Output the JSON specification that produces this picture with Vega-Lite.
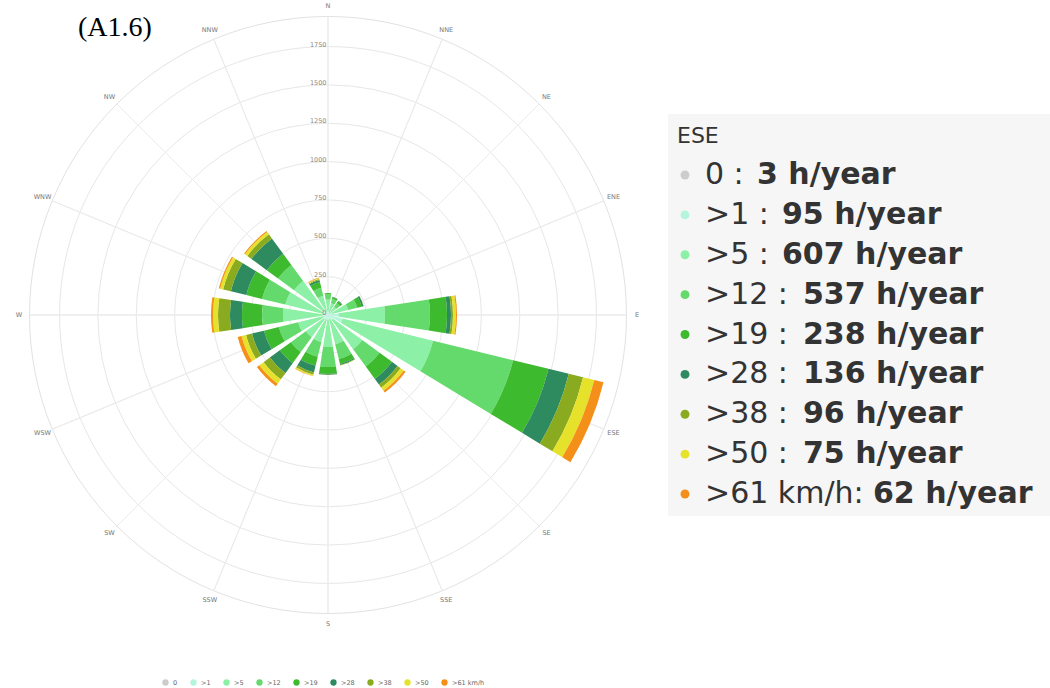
{
  "$schema": "https://vega.github.io/schema/vega-lite/v6.json",
  "padding": 0,
  "background": "white",
  "config": {"view": {"stroke": null}, "font": "DejaVu Sans"},
  "datasets": {
    "wind": [
      {"dir":"N","s":0,"h":1},{"dir":"N","s":1,"h":20},{"dir":"N","s":5,"h":80},{"dir":"N","s":12,"h":35},{"dir":"N","s":19,"h":7},{"dir":"N","s":28,"h":0},{"dir":"N","s":38,"h":0},{"dir":"N","s":50,"h":0},{"dir":"N","s":61,"h":0},
      {"dir":"NNE","s":0,"h":1},{"dir":"NNE","s":1,"h":18},{"dir":"NNE","s":5,"h":60},{"dir":"NNE","s":12,"h":30},{"dir":"NNE","s":19,"h":10},{"dir":"NNE","s":28,"h":3},{"dir":"NNE","s":38,"h":0},{"dir":"NNE","s":50,"h":0},{"dir":"NNE","s":61,"h":0},
      {"dir":"NE","s":0,"h":1},{"dir":"NE","s":1,"h":15},{"dir":"NE","s":5,"h":50},{"dir":"NE","s":12,"h":30},{"dir":"NE","s":19,"h":15},{"dir":"NE","s":28,"h":5},{"dir":"NE","s":38,"h":0},{"dir":"NE","s":50,"h":0},{"dir":"NE","s":61,"h":0},
      {"dir":"ENE","s":0,"h":1},{"dir":"ENE","s":1,"h":25},{"dir":"ENE","s":5,"h":110},{"dir":"ENE","s":12,"h":60},{"dir":"ENE","s":19,"h":30},{"dir":"ENE","s":28,"h":12},{"dir":"ENE","s":38,"h":2},{"dir":"ENE","s":50,"h":0},{"dir":"ENE","s":61,"h":0},
      {"dir":"E","s":0,"h":1},{"dir":"E","s":1,"h":70},{"dir":"E","s":5,"h":301},{"dir":"E","s":12,"h":293},{"dir":"E","s":19,"h":111},{"dir":"E","s":28,"h":26},{"dir":"E","s":38,"h":13},{"dir":"E","s":50,"h":19},{"dir":"E","s":61,"h":7},
      {"dir":"ESE","s":0,"h":3},{"dir":"ESE","s":1,"h":95},{"dir":"ESE","s":5,"h":607},{"dir":"ESE","s":12,"h":537},{"dir":"ESE","s":19,"h":238},{"dir":"ESE","s":28,"h":136},{"dir":"ESE","s":38,"h":96},{"dir":"ESE","s":50,"h":75},{"dir":"ESE","s":61,"h":62},
      {"dir":"SE","s":0,"h":1},{"dir":"SE","s":1,"h":40},{"dir":"SE","s":5,"h":236},{"dir":"SE","s":12,"h":140},{"dir":"SE","s":19,"h":100},{"dir":"SE","s":28,"h":45},{"dir":"SE","s":38,"h":25},{"dir":"SE","s":50,"h":25},{"dir":"SE","s":61,"h":15},
      {"dir":"SSE","s":0,"h":1},{"dir":"SSE","s":1,"h":30},{"dir":"SSE","s":5,"h":165},{"dir":"SSE","s":12,"h":100},{"dir":"SSE","s":19,"h":32},{"dir":"SSE","s":28,"h":8},{"dir":"SSE","s":38,"h":3},{"dir":"SSE","s":50,"h":1},{"dir":"SSE","s":61,"h":0},
      {"dir":"S","s":0,"h":1},{"dir":"S","s":1,"h":30},{"dir":"S","s":5,"h":178},{"dir":"S","s":12,"h":130},{"dir":"S","s":19,"h":45},{"dir":"S","s":28,"h":5},{"dir":"S","s":38,"h":2},{"dir":"S","s":50,"h":0},{"dir":"S","s":61,"h":0},
      {"dir":"SSW","s":0,"h":1},{"dir":"SSW","s":1,"h":30},{"dir":"SSW","s":5,"h":150},{"dir":"SSW","s":12,"h":100},{"dir":"SSW","s":19,"h":60},{"dir":"SSW","s":28,"h":45},{"dir":"SSW","s":38,"h":15},{"dir":"SSW","s":50,"h":8},{"dir":"SSW","s":61,"h":2},
      {"dir":"SW","s":0,"h":1},{"dir":"SW","s":1,"h":34},{"dir":"SW","s":5,"h":145},{"dir":"SW","s":12,"h":120},{"dir":"SW","s":19,"h":90},{"dir":"SW","s":28,"h":80},{"dir":"SW","s":38,"h":50},{"dir":"SW","s":50,"h":35},{"dir":"SW","s":61,"h":20},
      {"dir":"WSW","s":0,"h":1},{"dir":"WSW","s":1,"h":34},{"dir":"WSW","s":5,"h":165},{"dir":"WSW","s":12,"h":130},{"dir":"WSW","s":19,"h":100},{"dir":"WSW","s":28,"h":80},{"dir":"WSW","s":38,"h":40},{"dir":"WSW","s":50,"h":30},{"dir":"WSW","s":61,"h":26},
      {"dir":"W","s":0,"h":1},{"dir":"W","s":1,"h":35},{"dir":"W","s":5,"h":257},{"dir":"W","s":12,"h":137},{"dir":"W","s":19,"h":131},{"dir":"W","s":28,"h":78},{"dir":"W","s":38,"h":78},{"dir":"W","s":50,"h":33},{"dir":"W","s":61,"h":13},
      {"dir":"WNW","s":0,"h":1},{"dir":"WNW","s":1,"h":35},{"dir":"WNW","s":5,"h":251},{"dir":"WNW","s":12,"h":156},{"dir":"WNW","s":19,"h":105},{"dir":"WNW","s":28,"h":104},{"dir":"WNW","s":38,"h":52},{"dir":"WNW","s":50,"h":20},{"dir":"WNW","s":61,"h":9},
      {"dir":"NW","s":0,"h":1},{"dir":"NW","s":1,"h":33},{"dir":"NW","s":5,"h":240},{"dir":"NW","s":12,"h":130},{"dir":"NW","s":19,"h":91},{"dir":"NW","s":28,"h":124},{"dir":"NW","s":38,"h":33},{"dir":"NW","s":50,"h":19},{"dir":"NW","s":61,"h":7},
      {"dir":"NNW","s":0,"h":1},{"dir":"NNW","s":1,"h":25},{"dir":"NNW","s":5,"h":104},{"dir":"NNW","s":12,"h":53},{"dir":"NNW","s":19,"h":39},{"dir":"NNW","s":28,"h":13},{"dir":"NNW","s":38,"h":6},{"dir":"NNW","s":50,"h":6},{"dir":"NNW","s":61,"h":3}
    ],
    "dirs": [
      {"dir":"N","deg":0},{"dir":"NNE","deg":22.5},{"dir":"NE","deg":45},{"dir":"ENE","deg":67.5},
      {"dir":"E","deg":90},{"dir":"ESE","deg":112.5},{"dir":"SE","deg":135},{"dir":"SSE","deg":157.5},
      {"dir":"S","deg":180},{"dir":"SSW","deg":202.5},{"dir":"SW","deg":225},{"dir":"WSW","deg":247.5},
      {"dir":"W","deg":270},{"dir":"WNW","deg":292.5},{"dir":"NW","deg":315},{"dir":"NNW","deg":337.5}
    ],
    "rings": [{"v":0},{"v":250},{"v":500},{"v":750},{"v":1000},{"v":1250},{"v":1500},{"v":1750}]
  },
  "spacing": 12,
  "bounds": "flush",
  "center": true,
  "hconcat": [
    {
      "width": 656,
      "height": 630,
      "title": {"text": "(A1.6)", "anchor": "start", "frame": "group", "orient": "top", "offset": -64, "dx": 78, "font": "Liberation Serif", "fontSize": 28, "fontWeight": "normal", "color": "#000000", "baseline": "alphabetic"},
      "resolve": {"scale": {"theta": "independent"}},
      "layer": [
        {
          "data": {"name": "rings"},
          "mark": {"type": "arc", "theta": 0, "theta2": 6.2832, "filled": false, "stroke": "#e7e7e7", "strokeWidth": 1},
          "encoding": {
            "radius": {"field": "v", "type": "quantitative", "stack": null, "scale": {"type": "linear", "domain": [0, 1946], "range": [0, 298.5], "zero": true, "nice": false}}
          }
        },
        {
          "data": {"values": [{"edge": 1946}]},
          "mark": {"type": "arc", "theta": 0, "theta2": 6.2832, "filled": false, "stroke": "#e2e2e2", "strokeWidth": 1},
          "encoding": {
            "radius": {"field": "edge", "type": "quantitative", "stack": null, "scale": {"type": "linear", "domain": [0, 1946], "range": [0, 298.5], "zero": true, "nice": false}}
          }
        },
        {
          "data": {"name": "dirs"},
          "mark": {"type": "arc", "filled": false, "stroke": "#ebebeb", "strokeWidth": 1},
          "encoding": {
            "theta": {"field": "deg", "type": "quantitative", "scale": {"type": "linear", "domain": [0, 360], "range": [0, 6.283185307], "zero": false, "nice": false}},
            "theta2": {"field": "deg"},
            "radius": {"datum": 1946, "type": "quantitative", "stack": null, "scale": {"type": "linear", "domain": [0, 1946], "range": [0, 298.5], "zero": true, "nice": false}},
            "radius2": {"datum": 0}
          }
        },
        {
          "data": {"name": "wind"},
          "transform": [{"stack": "h", "groupby": ["dir"], "sort": [{"field": "s", "order": "ascending"}], "as": ["r0", "r1"]}],
          "mark": {"type": "arc", "stroke": null},
          "encoding": {
            "theta": {"field": "dir", "type": "nominal", "sort": ["N","NNE","NE","ENE","E","ESE","SE","SSE","S","SSW","SW","WSW","W","WNW","NW","NNW"], "scale": {"type": "band", "domain": ["N","NNE","NE","ENE","E","ESE","SE","SSE","S","SSW","SW","WSW","W","WNW","NW","NNW"], "range": [-0.19635, 6.08684], "paddingInner": 0.22, "paddingOuter": 0.11}},
            "radius": {"field": "r1", "type": "quantitative", "stack": null, "scale": {"type": "linear", "domain": [0, 1946], "range": [0, 298.5], "zero": true, "nice": false}},
            "radius2": {"field": "r0"},
            "color": {
              "field": "s", "type": "ordinal",
              "scale": {"domain": [0,1,5,12,19,28,38,50,61], "range": ["#cccccc","#b4f5dc","#8cf0a6","#64da6c","#3dba2d","#2e8a5f","#8aab1f","#e6e22c","#f4901a"]},
              "legend": {"orient": "none", "legendX": 162, "legendY": 679, "direction": "horizontal", "title": null, "symbolType": "circle", "symbolSize": 40, "symbolStrokeWidth": 0, "labelFontSize": 6.5, "labelColor": "#666666", "labelOffset": 4, "columnPadding": 12, "labelExpr": "datum.value == 0 ? '0' : datum.value == 61 ? '>61 km/h' : '>' + datum.value"}
            }
          }
        },
        {
          "data": {"name": "dirs"},
          "mark": {"type": "text", "radius": 309, "fontSize": 6.5, "color": "#777777", "align": "center", "baseline": "middle"},
          "encoding": {
            "theta": {"field": "deg", "type": "quantitative", "scale": {"type": "linear", "domain": [0, 360], "range": [0, 6.283185307], "zero": false, "nice": false}},
            "text": {"field": "dir", "type": "nominal"}
          }
        },
        {
          "data": {"name": "rings"},
          "mark": {"type": "text", "align": "right", "baseline": "bottom", "dx": -1.5, "dy": 1, "fontSize": 6.5, "color": "#888888"},
          "encoding": {
            "theta": {"datum": 0, "type": "quantitative", "scale": {"type": "linear", "domain": [0, 360], "range": [0, 6.283185307], "zero": false, "nice": false}},
            "radius": {"field": "v", "type": "quantitative", "stack": null, "scale": {"type": "linear", "domain": [0, 1946], "range": [0, 298.5], "zero": true, "nice": false}},
            "text": {"field": "v", "type": "quantitative"}
          }
        }
      ]
    },
    {
      "width": 382,
      "height": 402,
      "view": {"fill": "#f6f6f6", "stroke": null},
      "title": {"text": "ESE", "anchor": "start", "frame": "group", "orient": "top", "offset": -51, "dx": 9, "font": "DejaVu Sans", "fontSize": 22, "fontWeight": "normal", "color": "#333333", "baseline": "alphabetic"},
      "data": {"name": "wind"},
      "transform": [{"filter": "datum.dir == 'ESE'"}],
      "encoding": {
        "y": {"field": "s", "type": "ordinal", "axis": null, "scale": {"type": "point", "domain": [0,1,5,12,19,28,38,50,61], "range": [61, 380], "padding": 0}}
      },
      "layer": [
        {
          "mark": {"type": "point", "filled": true, "x": 17, "size": 80, "opacity": 1},
          "encoding": {
            "color": {
              "field": "s", "type": "ordinal",
              "scale": {"domain": [0,1,5,12,19,28,38,50,61], "range": ["#cccccc","#b4f5dc","#8cf0a6","#64da6c","#3dba2d","#2e8a5f","#8aab1f","#e6e22c","#f4901a"]},
              "legend": {"orient": "none", "legendX": 162, "legendY": 679, "direction": "horizontal", "title": null, "symbolType": "circle", "symbolSize": 40, "symbolStrokeWidth": 0, "labelFontSize": 6.5, "labelColor": "#666666", "labelOffset": 4, "columnPadding": 12, "labelExpr": "datum.value == 0 ? '0' : datum.value == 61 ? '>61 km/h' : '>' + datum.value"}
            }
          }
        },
        {
          "mark": {"type": "text", "x": 37, "align": "left", "baseline": "middle", "fontSize": 30, "color": "#333333", "font": "DejaVu Sans",
                   "text": {"expr": "datum.s == 0 ? '0 : ' : datum.s == 61 ? '>61 km/h: ' : '>' + datum.s + ' : '"}}
        },
        {
          "mark": {"type": "text", "align": "left", "baseline": "middle", "fontSize": 30, "fontWeight": "bold", "color": "#333333", "font": "DejaVu Sans",
                   "x": {"expr": "datum.s == 0 ? 89 : datum.s == 61 ? 205 : datum.s < 10 ? 114 : 135"},
                   "text": {"expr": "datum.h + ' h/year'"}}
        }
      ]
    }
  ],
  "resolve": {"scale": {"color": "shared"}, "legend": {"color": "shared"}}
}
